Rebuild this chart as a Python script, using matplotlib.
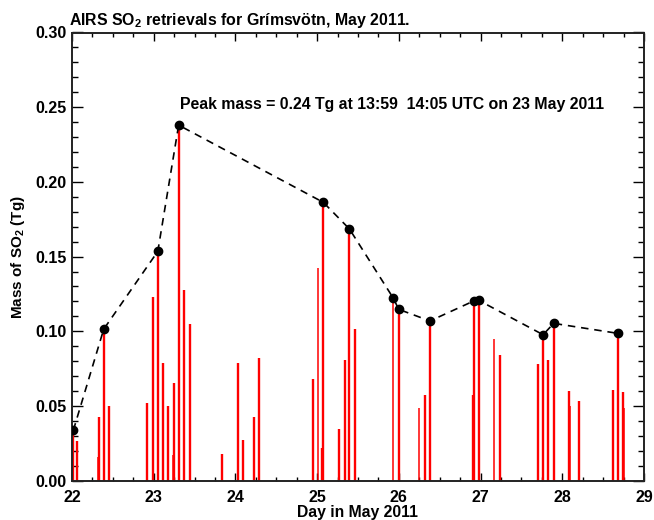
import numpy as np
import matplotlib
matplotlib.use("Agg")
import matplotlib.pyplot as plt
from matplotlib.ticker import MultipleLocator

plt.rcParams['font.family'] = ['Liberation Sans', 'DejaVu Sans']
plt.rcParams['font.weight'] = 'bold'
plt.rcParams['mathtext.default'] = 'regular'

# peak SO2 mass per overpass (black dots, dashed line)
point_days = [22.016, 22.388, 23.050, 23.305, 25.076, 25.395, 25.933, 25.998,
              26.380, 26.917, 26.978, 27.765, 27.895, 28.683]
point_mass = [0.0337, 0.1014, 0.1535, 0.2380, 0.1863, 0.1685, 0.1221, 0.1147,
              0.1069, 0.1203, 0.1207, 0.0977, 0.1053, 0.0986]

# individual granule retrievals (red bars)
bar_days = [22.016, 22.065, 22.330, 22.388, 22.453, 22.914, 22.987, 23.050,
            23.114, 23.175, 23.248, 23.305, 23.371, 23.440, 23.832, 24.030,
            24.093, 24.228, 24.289, 24.946, 25.064, 25.076, 25.268, 25.338,
            25.395, 25.462, 25.998, 26.316, 26.380, 26.917, 26.978, 27.235,
            27.700, 27.765, 27.830, 27.895, 28.080, 28.210, 28.618, 28.683,
            28.740, 26.908]
bar_mass = [0.0337, 0.0266, 0.0424, 0.1014, 0.0500, 0.0522, 0.1230, 0.1535,
            0.0790, 0.0500, 0.0654, 0.2380, 0.1276, 0.1049, 0.0179, 0.0786,
            0.0270, 0.0426, 0.0819, 0.0679, 0.0221, 0.1863, 0.0344, 0.0808,
            0.1685, 0.1015, 0.1147, 0.0574, 0.1069, 0.1203, 0.1207, 0.0841,
            0.0781, 0.0977, 0.0808, 0.1053, 0.0600, 0.0536, 0.0609, 0.0986,
            0.0594, 0.0571]

# fainter (thinner) bars
thin_days = [22.314, 23.232, 25.015, 25.933, 26.247, 26.922, 27.165, 28.095, 28.756]
thin_mass = [0.0157, 0.0172, 0.1426, 0.1221, 0.0487, 0.0799, 0.0948, 0.0500, 0.0487]

fig = plt.figure(figsize=(6.54, 5.2), dpi=100)
ax = fig.add_axes([0.1101, 0.0756, 0.8746, 0.8619])

ax.vlines(bar_days, 0, bar_mass, color='#ff0000', lw=1.7, zorder=2)
ax.vlines(thin_days, 0, thin_mass, color='#ff0000', lw=1.1, zorder=2)
ax.plot(point_days, point_mass, color='black', ls=(0, (4.5, 3.5)), lw=1.2, zorder=3)
ax.plot(point_days, point_mass, 'o', color='black', ms=6, zorder=4)

ax.set_xlim(22, 29)
ax.set_ylim(0, 0.30)
ax.xaxis.set_major_locator(MultipleLocator(1))
ax.xaxis.set_minor_locator(MultipleLocator(0.25))
ax.yaxis.set_major_locator(MultipleLocator(0.05))
ax.yaxis.set_minor_locator(MultipleLocator(0.01))
ax.yaxis.set_major_formatter(plt.FormatStrFormatter('%.2f'))

ax.tick_params(axis='both', which='both', direction='in', top=True, right=True,
               labelsize=11.5, width=1.0)
ax.tick_params(axis='x', which='major', length=6, pad=7)
ax.tick_params(axis='x', which='minor', length=3)
ax.tick_params(axis='y', which='major', length=8, pad=4)
ax.tick_params(axis='y', which='minor', length=4.5)
for sp in ax.spines.values():
    sp.set_linewidth(1.4)
    sp.set_color('#222222')

ax.set_xlabel('Day in May 2011', fontsize=11.3, fontweight='bold', labelpad=0)
ax.set_ylabel('Mass of SO$_2$ (Tg)', fontsize=11, fontweight='bold', labelpad=6)

fig.text(69/654, 1 - 24.5/520, 'AIRS SO$_2$ retrievals for Grímsvötn, May 2011.',
         fontsize=11.4, fontweight='bold', ha='left', va='baseline')
ax.text(23.325, 0.2488, 'Peak mass = 0.24 Tg at 13:59  14:05 UTC on 23 May 2011',
        fontsize=11.4, fontweight='bold', ha='left', va='baseline')

fig.savefig('out.png', dpi=100)
